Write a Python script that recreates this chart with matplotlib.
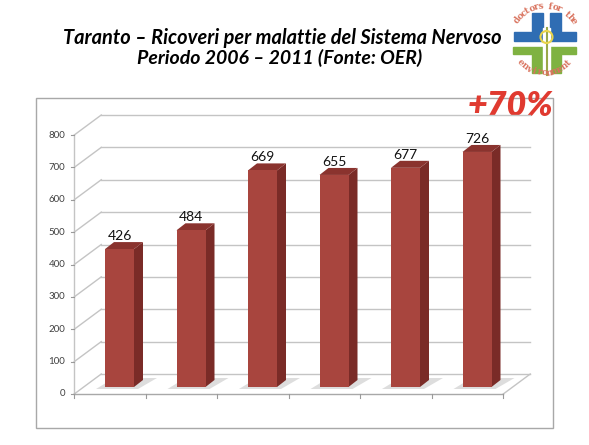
import matplotlib
matplotlib.use("Agg")
import matplotlib.pyplot as plt
from matplotlib.patches import Polygon, Rectangle, Circle
import numpy as np

# ---------------- data ----------------
years = ["2006", "2007", "2008", "2009", "2010", "2011"]
ricoveri = [426, 484, 669, 655, 677, 726]
y_ticks = [0, 100, 200, 300, 400, 500, 600, 700, 800]
title_line1 = "Taranto – Ricoveri per malattie del Sistema Nervoso"
title_line2 = "Periodo 2006 – 2011 (Fonte: OER)"
increase_label = "+70%"

# ---------------- style ----------------
W, H = 589, 445
FONT = ["Lato", "DejaVu Sans"]
FRONT = "#a8453e"
SIDE = "#7a2b27"
TOP = "#8a332e"
GRID = "#c4c4c4"

fig = plt.figure(figsize=(W / 100, H / 100), dpi=100)

# overlay axes in pixel coordinates (y down) for frame, titles, logo
ov = fig.add_axes([0, 0, 1, 1])
ov.set_xlim(0, W)
ov.set_ylim(H, 0)
ov.axis("off")

# main plot axes (bar plane)
x_left_px, x_right_px = 83.75, 512.75
y_base_px, y_top_px = 387, 128
ax = fig.add_axes([x_left_px / W, (H - y_base_px) / H,
                   (x_right_px - x_left_px) / W, (y_base_px - y_top_px) / H])
ax.set_xlim(-0.5, 5.5)
ax.set_ylim(0, 800)
ax.axis("off")
ax.patch.set_alpha(0)

PX = 6.0 / (x_right_px - x_left_px)      # data-x per pixel
PY = 800.0 / (y_base_px - y_top_px)      # data-y per pixel

dxf, dyf = -9.5 * PX, -7 * PY            # front plane offset
dxb, dyb = 17.5 * PX, 13 * PY            # back wall offset
bdx, bdy = 9 * PX, 7 * PY                # bar depth
bw = 29 * PX
hw = bw / 2

# frame box
ov.add_patch(Rectangle((36, 98), 553 - 36, 428 - 98, fill=False,
                       edgecolor="#a8a8a8", lw=1.0, zorder=1))

# walls / gridlines
for v in y_ticks:
    ax.plot([-0.5 + dxf, -0.5 + dxb], [v + dyf, v + dyb], color=GRID, lw=1.0,
            clip_on=False, zorder=1)
    ax.plot([-0.5 + dxb, 5.5 + dxb], [v + dyb, v + dyb], color=GRID, lw=1.0,
            clip_on=False, zorder=1)
    ax.plot([-0.5 + dxf - 3 * PX, -0.5 + dxf], [v + dyf, v + dyf], color="#9a9a9a",
            lw=0.8, clip_on=False, zorder=2)
    ax.text(-0.5 + dxf - 9 * PX, v + dyf, str(v), ha="right", va="center",
            fontsize=7, color="#404040", family=FONT)

ax.plot([-0.5 + dxf, -0.5 + dxf], [dyf, 800 + dyf], color=GRID, lw=1.0,
        clip_on=False, zorder=1)
ax.plot([-0.5 + dxf, 5.5 + dxf], [dyf, dyf], color="#a8a8a8", lw=1.0,
        clip_on=False, zorder=2)
ax.plot([5.5 + dxf, 5.5 + dxb], [dyf, dyb], color=GRID, lw=1.0,
        clip_on=False, zorder=1)
for b in np.arange(-0.5, 6.0, 1.0):
    ax.plot([b + dxf, b + dxf], [dyf, dyf - 4 * PY], color="#9a9a9a", lw=0.8,
            clip_on=False, zorder=2)

xs = np.arange(len(years))

# floor shadows
for x in xs:
    shadow = Polygon([(x - hw - 9 * PX, -2 * PY), (x + hw + 4 * PX, -2 * PY),
                      (x + hw + bdx + 14 * PX, bdy + 2 * PY),
                      (x - hw + bdx, bdy + 2 * PY)],
                     closed=True, facecolor="#cfcfcf", edgecolor="none",
                     alpha=0.7, zorder=2, clip_on=False)
    ax.add_patch(shadow)

# bars: front faces through ax.bar, then side & top faces
ax.bar(xs, ricoveri, width=bw, color=FRONT, edgecolor="none", zorder=4)
for x, v in zip(xs, ricoveri):
    side = Polygon([(x + hw, 0), (x + hw + bdx, bdy), (x + hw + bdx, v + bdy),
                    (x + hw, v)], closed=True, facecolor=SIDE, edgecolor="none",
                   zorder=3, clip_on=False)
    top = Polygon([(x - hw, v), (x + hw, v), (x + hw + bdx, v + bdy),
                   (x - hw + bdx, v + bdy)], closed=True, facecolor=TOP,
                  edgecolor="none", zorder=3, clip_on=False)
    ax.add_patch(side)
    ax.add_patch(top)
    ax.annotate(str(v), (x, v), xytext=(0, 13 * 0.72), textcoords="offset points",
                ha="center", va="center", fontsize=10, color="#111111", family=FONT)

# category labels
for x, lab in zip(xs, years):
    ax.annotate(lab, (x + dxf, dyf), xytext=(0, -17 * 0.72), textcoords="offset points",
                ha="center", va="center", fontsize=10, fontweight="bold",
                fontstyle="italic", color="#111111", family=FONT)

# titles
ov.text(282.5, 44, title_line1, ha="center", va="baseline", fontsize=14.4,
        fontweight="bold", fontstyle="italic", color="black", family=FONT)
ov.text(280, 64, title_line2, ha="center", va="baseline", fontsize=14.0,
        fontweight="bold", fontstyle="italic", color="black", family=FONT)

# +70%
ov.text(510, 106, increase_label, ha="center", va="center", fontsize=24.5,
        fontweight="heavy", fontstyle="italic", color="#e03a30", family=FONT,
        zorder=10)

# logo
BLUE = "#2f6db3"
GREEN = "#7fb241"
ov.add_patch(Rectangle((532, 13), 11, 19, color=BLUE, zorder=5))
ov.add_patch(Rectangle((550, 13), 11, 19, color=BLUE, zorder=5))
ov.add_patch(Rectangle((514, 32), 62, 9, color=BLUE, zorder=5))
ov.add_patch(Rectangle((513, 47), 63, 7, color=GREEN, zorder=5))
ov.add_patch(Rectangle((532, 54), 11, 19, color=GREEN, zorder=5))
ov.add_patch(Rectangle((550, 54), 11, 19, color=GREEN, zorder=5))
ov.add_patch(Rectangle((543, 28), 7, 47, color="white", zorder=5.5))
ov.plot([546.5, 546.5], [28, 75], color="#9aa84a", lw=1.5, zorder=6)
ov.add_patch(Circle((546.5, 37), 6, fill=False, edgecolor="#e8d44a", lw=1.5, zorder=6))
cx, cy = 545, 40
top_txt = "doctors for the"
for k, ch in enumerate(top_txt):
    th = np.deg2rad(144 - (144 - 34) * k / (len(top_txt) - 1))
    ov.text(cx + 34 * np.cos(th), cy - 34 * np.sin(th), ch, ha="center", va="center",
            rotation=np.rad2deg(th) - 90, fontsize=6.3, fontweight="bold",
            color="#d9735e", family="DejaVu Serif", zorder=6)
bot_txt = "environment"
for k, ch in enumerate(bot_txt):
    th = np.deg2rad(222 + (316 - 222) * k / (len(bot_txt) - 1))
    ov.text(cx + 33 * np.cos(th), cy - 33 * np.sin(th), ch, ha="center", va="center",
            rotation=np.rad2deg(th) + 90, fontsize=6.3, fontweight="bold",
            color="#d9735e", family="DejaVu Serif", zorder=7)

fig.savefig("out.png", dpi=100)
